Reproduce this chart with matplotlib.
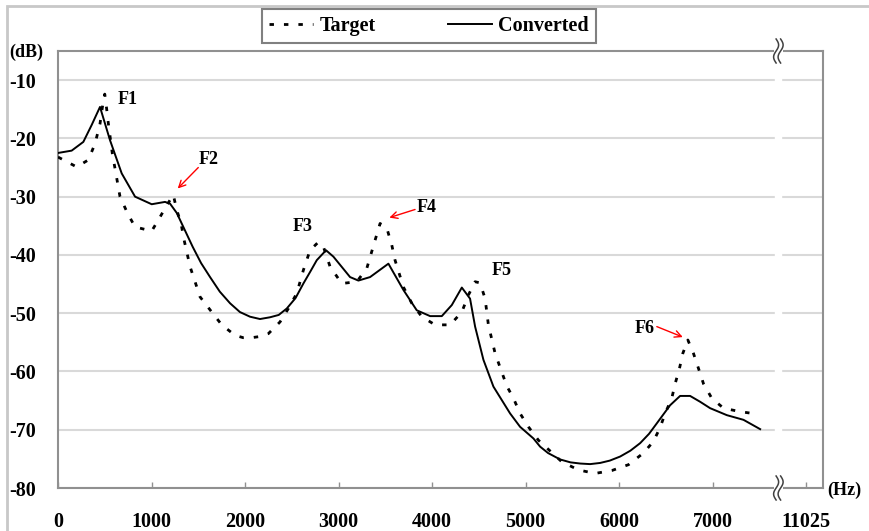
import numpy as np
import matplotlib
matplotlib.use('Agg')
import matplotlib.pyplot as plt
import matplotlib.patches as patches
import matplotlib.transforms as mtransforms

plt.rcParams['font.family'] = ['Liberation Serif', 'DejaVu Serif']
plt.rcParams['font.weight'] = 'bold'

# Converted spectrum (solid)
conv_hz = [0, 146, 271, 360, 449, 556, 681, 824, 1002, 1144, 1198, 1270, 1440,
           1530, 1626, 1730, 1840, 1945, 2053, 2160, 2267, 2360, 2446, 2540,
           2624, 2700, 2767, 2866, 2945, 3123, 3212, 3337, 3533, 3693, 3836,
           3979, 4104, 4211, 4318, 4406, 4460, 4549, 4656, 4834, 4941, 5084,
           5155, 5240, 5369, 5480, 5583, 5690, 5797, 5900, 6011, 6120, 6225,
           6320, 6403, 6545, 6652, 6759, 6866, 6973, 7152, 7330, 7508]
conv_db = [-22.5, -22.1, -20.6, -17.7, -14.6, -20.3, -26.0, -30.0, -31.3, -30.9,
           -31.2, -32.8, -38.6, -41.4, -43.8, -46.3, -48.3, -49.8, -50.6, -51.0,
           -50.7, -50.3, -49.2, -47.4, -44.9, -42.8, -40.9, -39.2, -40.3, -43.8,
           -44.4, -43.8, -41.5, -46.0, -49.5, -50.5, -50.5, -48.6, -45.6, -47.5,
           -52.3, -58.0, -62.6, -67.2, -69.5, -71.5, -72.9, -74.0, -75.1, -75.6,
           -75.8, -75.9, -75.7, -75.3, -74.6, -73.6, -72.3, -70.7, -68.9, -65.8,
           -64.2, -64.2, -65.2, -66.3, -67.5, -68.3, -69.9]

# Target spectrum (dotted)
tgt_hz = [0, 200, 324, 396, 449, 485, 500, 520, 538, 581, 610, 663, 745, 824,
          1002, 1091, 1162, 1233, 1270, 1316, 1345, 1412, 1519, 1644, 1751, 1893,
          1980, 2071, 2160, 2250, 2374, 2463, 2553, 2624, 2695, 2784, 2838, 2909,
          3034, 3195, 3302, 3390, 3444, 3516, 3569, 3604, 3693, 3783, 3890, 4032,
          4193, 4318, 4388, 4460, 4513, 4567, 4602, 4674, 4745, 4799, 4870, 4941,
          5030, 5137, 5387, 5565, 5743, 5922, 6100, 6260, 6367, 6439, 6492, 6563,
          6599, 6645, 6681, 6735, 6795, 6849, 6902, 6991, 7116, 7294, 7472]
tgt_db = [-23.2, -24.9, -23.7, -20.9, -17.5, -13.5, -12.4, -14.9, -17.4, -22.6,
          -25.2, -30.0, -32.9, -35.2, -35.9, -33.5, -31.5, -29.7, -32.3, -34.6,
          -37.2, -42.0, -47.2, -49.8, -52.0, -53.8, -54.2, -54.2, -54.0, -53.5,
          -51.5, -49.2, -46.6, -42.6, -39.2, -37.8, -38.6, -42.0, -44.9, -44.6,
          -42.3, -37.5, -34.6, -35.4, -38.3, -40.9, -45.5, -48.3, -50.6, -52.0,
          -52.0, -49.8, -46.9, -44.6, -44.8, -47.5, -52.0, -56.9, -60.1, -62.5,
          -64.6, -67.2, -69.5, -71.8, -75.5, -76.9, -77.5, -77.0, -76.0, -74.0,
          -72.0, -69.6, -67.2, -64.6, -62.1, -59.5, -56.9, -54.6, -56.9, -59.5,
          -62.1, -64.6, -66.3, -66.9, -67.3]

# x axis is broken between 7000 and 11025 Hz: 11025 is drawn at position 8000
x_ticks = [0, 1000, 2000, 3000, 4000, 5000, 6000, 7000, 8000]
x_labels = ['0', '1000', '2000', '3000', '4000', '5000', '6000', '7000', '11025']
y_ticks = [-80, -70, -60, -50, -40, -30, -20, -10]
x_break = 7700

# formant labels: (text, x, y) and red arrows (tail, head)
formants = [('F1', 642, -13.3), ('F2', 1508, -23.6), ('F3', 2513, -35.2),
            ('F4', 3836, -31.9), ('F5', 4638, -42.6), ('F6', 6171, -52.6)]
arrows = [((1500, -25.0), (1280, -28.6)),
          ((3818, -32.2), (3543, -33.6)),
          ((6403, -52.3), (6681, -54.1))]

fig = plt.figure(figsize=(8.7, 5.31), dpi=100)
ax = fig.add_axes([58/870, 43/531, 765/870, 437/531])

ax.plot(tgt_hz, tgt_db, color='black', linewidth=2.0, linestyle=(0, (1.6, 3.6)),
        dash_capstyle='butt', label='Target', zorder=3)
ax.plot(conv_hz, conv_db, color='black', linewidth=1.4, label='Converted', zorder=3)

ax.set_xlim(0, 8180)
ax.set_ylim(-80, -5)
ax.set_xticks(x_ticks)
ax.set_xticklabels(x_labels)
ax.set_yticks(y_ticks)
ax.set_yticklabels([str(v) for v in y_ticks])
ax.tick_params(axis='x', direction='in', length=4, width=1, color='#909090',
               pad=17, labelsize=14.5)
ax.tick_params(axis='y', length=0, pad=16, labelsize=14.5)
for lab in ax.get_xticklabels() + ax.get_yticklabels():
    lab.set_fontweight('bold')

ax.set_axisbelow(True)
ax.yaxis.grid(True, color='#d9d9d9', linewidth=1.5)
ax.axvspan(x_break - 30, x_break + 30, color='white', zorder=1)
for s in ax.spines.values():
    s.set_color('#909090')
    s.set_linewidth(1.5)

# break marks on top and bottom spines
t = np.linspace(-1, 1, 40)
for yax in (0, 1):
    tr = fig.dpi_scale_trans + mtransforms.ScaledTranslation(
        x_break, yax, ax.get_xaxis_transform())
    ax.add_patch(patches.Rectangle((-0.04, -0.02), 0.09, 0.04, transform=tr,
                                   facecolor='white', edgecolor='none',
                                   clip_on=False, zorder=4))
    for dx in (-0.02, 0.025):
        ax.plot(dx + 0.025 * np.sin(np.pi * t), 0.12 * t, transform=tr,
                color='#404040', linewidth=1.1, clip_on=False, zorder=5)

for name, fx, fy in formants:
    ax.text(fx, fy, name, fontsize=13, fontweight='bold', ha='left', va='center')
for tail, head in arrows:
    ax.annotate('', xy=head, xytext=tail,
                arrowprops=dict(arrowstyle='->', color='red', lw=1.0,
                                shrinkA=0, shrinkB=0, mutation_scale=12))

fig.text(9/870, 1 - 52/531, '(dB)', fontsize=13, fontweight='bold',
         ha='left', va='center')
fig.text(827/870, 1 - 490/531, '(Hz)', fontsize=13, fontweight='bold',
         ha='left', va='center')

leg = fig.legend(loc='center', bbox_to_anchor=(429/870, 1 - 26/531), ncol=2,
                 frameon=True, fancybox=False, framealpha=1, edgecolor='#808080',
                 fontsize=14.5, handlelength=2.2, handletextpad=0.3,
                 columnspacing=3.6, borderpad=0.35)
leg.get_frame().set_linewidth(1.5)
for txt in leg.get_texts():
    txt.set_fontweight('bold')

# outer frame around the figure
fig.patches.append(patches.Rectangle((7/870, -0.1), 1.2, 1.1 - 6/531,
                                     transform=fig.transFigure, fill=False,
                                     edgecolor='#c8c8c8', linewidth=2))

fig.savefig('out.png', dpi=100)
